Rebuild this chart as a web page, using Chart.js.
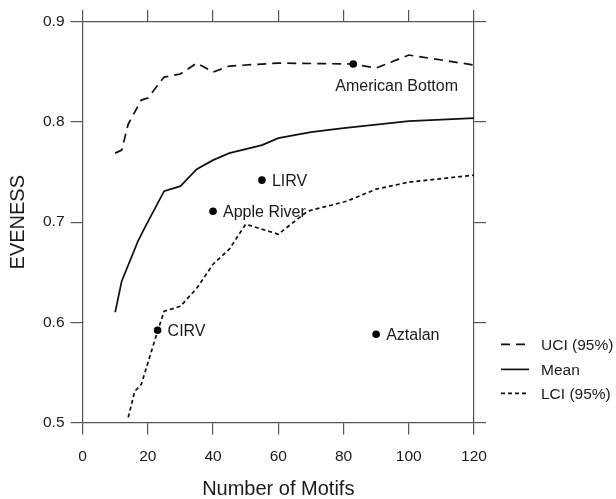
<!DOCTYPE html>
<html lang="en">
<head>
  <meta charset="UTF-8" />
  <title>Eveness by number of motifs</title>
  <script src="https://cdn.jsdelivr.net/npm/chart.js"></script>
  <style>
    html, body { margin: 0; padding: 0; background: #fff; }
    #wrap { width: 616px; height: 499px; }
  </style>
</head>
<body>
  <div id="wrap"><canvas id="evenChart"></canvas></div>

  <script>
    // upper confidence interval (95%)
    const uciX = [10, 12, 14, 18, 20, 25, 30, 35, 40, 45, 60, 83, 90, 100, 120];
    const uciY = [0.769, 0.772, 0.798, 0.822, 0.824, 0.845, 0.848, 0.859, 0.850, 0.856, 0.859, 0.858, 0.854, 0.867, 0.857];

    // mean curve
    const meanX = [10, 12, 17, 19, 25, 30, 35, 40, 45, 55, 60, 70, 80, 100, 120];
    const meanY = [0.610, 0.641, 0.681, 0.694, 0.731, 0.736, 0.753, 0.762, 0.769, 0.777, 0.784, 0.790, 0.794, 0.801, 0.804];

    // lower confidence interval (95%)
    const lciX = [14, 16, 18, 23, 25, 30, 35, 40, 45, 50, 60, 69, 81, 90, 100, 120];
    const lciY = [0.505, 0.531, 0.538, 0.591, 0.611, 0.616, 0.634, 0.658, 0.673, 0.698, 0.688, 0.711, 0.721, 0.733, 0.740, 0.747];

    // observed sites
    const siteNames = ['American Bottom', 'LIRV', 'Apple River', 'CIRV', 'Aztalan'];
    const siteX = [83, 55, 40, 23, 90];
    const siteY = [0.858, 0.742, 0.711, 0.592, 0.588];

    const xTicks = [0, 20, 40, 60, 80, 100, 120];
    const yTicks = [0.5, 0.6, 0.7, 0.8, 0.9];

    const axisColor = '#555';
    const textColor = '#1a1a1a';
    const fontFamily = 'Arial, "Liberation Sans", sans-serif';

    const pts = (xs, ys) => xs.map((x, i) => ({ x: x, y: ys[i] }));

    // labels next to the site points
    const siteLabels = {
      id: 'siteLabels',
      afterDatasetsDraw(chart) {
        const ctx = chart.ctx;
        const meta = chart.getDatasetMeta(3);
        ctx.save();
        ctx.font = '16px ' + fontFamily;
        ctx.fillStyle = textColor;
        ctx.textBaseline = 'middle';
        meta.data.forEach((p, i) => {
          if (i === 0) {
            ctx.fillText(siteNames[i], p.x - 18, p.y + 23);
          } else {
            ctx.fillText(siteNames[i], p.x + 10, p.y + 1);
          }
        });
        ctx.restore();
      }
    };

    // legend drawn to the right of the frame
    const sideLegend = {
      id: 'sideLegend',
      afterDraw(chart) {
        const ctx = chart.ctx;
        const area = chart.chartArea;
        const x0 = area.right + 27;
        const rows = [area.bottom - 78, area.bottom - 53, area.bottom - 29];
        ctx.save();
        ctx.font = '15.5px ' + fontFamily;
        ctx.textBaseline = 'middle';
        for (let i = 0; i < 3; i++) {
          const ds = chart.data.datasets[i];
          ctx.strokeStyle = '#111';
          ctx.lineWidth = ds.borderWidth;
          ctx.setLineDash(ds.borderDash || []);
          ctx.beginPath();
          ctx.moveTo(x0, rows[i]);
          ctx.lineTo(x0 + 28, rows[i]);
          ctx.stroke();
          ctx.fillStyle = textColor;
          ctx.fillText(ds.label, x0 + 40, rows[i] + 1);
        }
        ctx.restore();
      }
    };

    const frameGrid = {
      drawOnChartArea: false,
      drawTicks: true,
      tickLength: 12,
      color: axisColor,
      lineWidth: 1.2
    };
    const frameBorder = { display: true, color: axisColor, width: 1.2 };

    const ctx = document.getElementById('evenChart').getContext('2d');
    new Chart(ctx, {
      type: 'line',
      data: {
        datasets: [
          {
            label: 'UCI (95%)',
            data: pts(uciX, uciY),
            borderColor: '#111',
            borderWidth: 1.7,
            borderDash: [9, 6],
            pointRadius: 0,
            tension: 0
          },
          {
            label: 'Mean',
            data: pts(meanX, meanY),
            borderColor: '#111',
            borderWidth: 1.7,
            pointRadius: 0,
            tension: 0
          },
          {
            label: 'LCI (95%)',
            data: pts(lciX, lciY),
            borderColor: '#111',
            borderWidth: 1.7,
            borderDash: [4, 3],
            pointRadius: 0,
            tension: 0
          },
          {
            label: 'Sites',
            data: pts(siteX, siteY),
            showLine: false,
            pointRadius: 3.8,
            pointBackgroundColor: '#000',
            pointBorderColor: '#000',
            borderWidth: 0
          }
        ]
      },
      options: {
        responsive: true,
        maintainAspectRatio: false,
        animation: false,
        layout: { padding: { top: 10, right: 130, bottom: 0, left: 0 } },
        plugins: {
          legend: { display: false },
          tooltip: { enabled: false }
        },
        scales: {
          x: {
            type: 'linear',
            position: 'bottom',
            min: 0,
            max: 120,
            afterBuildTicks: (s) => { s.ticks = xTicks.map(v => ({ value: v })); },
            grid: frameGrid,
            border: frameBorder,
            ticks: {
              color: textColor,
              padding: 13,
              maxRotation: 0,
              font: { family: fontFamily, size: 15.5 }
            },
            title: {
              display: true,
              text: 'Number of Motifs',
              color: textColor,
              font: { family: fontFamily, size: 20, lineHeight: 1.0 },
              padding: { top: 0, bottom: 0 }
            }
          },
          x2: {
            type: 'linear',
            position: 'top',
            min: 0,
            max: 120,
            afterBuildTicks: (s) => { s.ticks = xTicks.map(v => ({ value: v })); },
            grid: frameGrid,
            border: frameBorder,
            ticks: { display: false }
          },
          y: {
            type: 'linear',
            position: 'left',
            min: 0.5,
            max: 0.9,
            afterBuildTicks: (s) => { s.ticks = yTicks.map(v => ({ value: v })); },
            grid: frameGrid,
            border: frameBorder,
            ticks: {
              color: textColor,
              padding: 6,
              font: { family: fontFamily, size: 15.5 },
              callback: (v) => v.toFixed(1)
            },
            title: {
              display: true,
              text: 'EVENESS',
              color: textColor,
              font: { family: fontFamily, size: 20 },
              padding: { top: 6, bottom: 7 }
            }
          },
          y2: {
            type: 'linear',
            position: 'right',
            min: 0.5,
            max: 0.9,
            afterBuildTicks: (s) => { s.ticks = yTicks.map(v => ({ value: v })); },
            grid: frameGrid,
            border: frameBorder,
            ticks: { display: false }
          }
        }
      },
      plugins: [siteLabels, sideLegend]
    });
  </script>
</body>
</html>
